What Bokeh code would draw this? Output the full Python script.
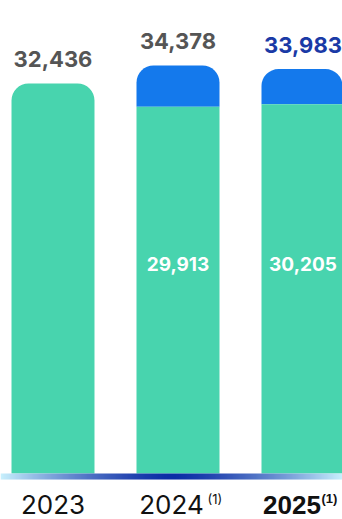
import numpy as np
from bokeh.plotting import figure
from bokeh.models import ColumnDataSource, Range1d
from bokeh.core.properties import value
from bokeh.embed import file_html
from bokeh.resources import INLINE

# ---- data ----
years = ["2023", "2024", "2025"]
totals = [32436, 34378, 33983]
base_values = [32436, 29913, 30205]   # green part
inner_labels = ["", "29,913", "30,205"]
total_labels = ["32,436", "34,378", "33,983"]
superscripts = ["", "(1)", "(1)"]

GREEN = "#48d4ae"
BLUE = "#1479ec"
BASE = -9640          # visual baseline of the bars
BAND = -10290         # bottom of the gradient band
W = 0.664

idx = list(range(len(years)))

p = figure(width=342, height=519, output_backend="svg", toolbar_location=None,
           x_range=Range1d(-0.42, 2.316), y_range=Range1d(-14602, 41385),
           min_border=0, outline_line_color=None, background_fill_color="white")
p.xaxis.visible = False
p.yaxis.visible = False
p.xgrid.visible = False
p.ygrid.visible = False

# blue tops (stacked segment), rounded top corners
blue_idx = [i for i in idx if totals[i] > base_values[i]]
src_blue = ColumnDataSource(dict(x=blue_idx,
                                 top=[totals[i] for i in blue_idx],
                                 bottom=[base_values[i] for i in blue_idx]))
p.vbar(x="x", top="top", bottom="bottom", width=W, source=src_blue,
       fill_color=BLUE, line_color=None, border_radius=(17, 17, 0, 0))

# green parts
green_round = [i for i in idx if totals[i] == base_values[i]]
green_flat = [i for i in idx if totals[i] > base_values[i]]
p.vbar(x=green_round, top=[base_values[i] for i in green_round], bottom=BASE,
       width=W, fill_color=GREEN, line_color=None, border_radius=(17, 17, 0, 0))
p.vbar(x=green_flat, top=[base_values[i] for i in green_flat], bottom=BASE,
       width=W, fill_color=GREEN, line_color=None)

# gradient baseline band
n = 400
t = np.linspace(-1, 1, n)
w = np.clip(np.abs(t) ** 1.4, 0, 1)
dark = np.array([12, 44, 166])
light = np.array([200, 240, 253])
cols = (dark[None, :] * (1 - w[:, None]) + light[None, :] * w[:, None]).astype(np.uint32)
img = np.empty((1, n), dtype=np.uint32)
view = img.view(dtype=np.uint8).reshape((1, n, 4))
view[0, :, 0] = cols[:, 0]
view[0, :, 1] = cols[:, 1]
view[0, :, 2] = cols[:, 2]
view[0, :, 3] = 255
x0 = -0.42
x1 = 2.316
p.image_rgba(image=[img], x=x0, y=BAND, dw=x1 - x0, dh=BASE - BAND)

# total labels
label_colors = ["#555555", "#555555", "#1a3aa6"]
p.text(x=idx, y=totals, text=total_labels, text_align="center", text_baseline="middle",
       y_offset=-24, text_font=value("Inter"), text_font_style="bold",
       text_font_size="22px", text_color=label_colors)

# inner labels
in_idx = [i for i in idx if inner_labels[i]]
p.text(x=in_idx, y=[13000] * len(in_idx), text=[inner_labels[i] for i in in_idx],
       text_align="center", text_baseline="middle", text_font=value("Inter"),
       text_font_style="bold", text_font_size="19px", text_color="white")

# category labels
styles = ["normal", "normal", "bold"]
fonts = ["Inter", "Inter", "Liberation Sans"]
main_off = [0, -6.5, -11]
sup_off = [0, 29.5, 18.5]
for i in idx:
    p.text(x=[i], y=[-13092], text=[years[i]], text_align="center", text_baseline="middle",
           x_offset=main_off[i], y_offset=-1, text_line_height=1.0,
           text_font=value(fonts[i]), text_font_style=styles[i],
           text_font_size="26px", text_color="#111111")
    if superscripts[i]:
        p.text(x=[i], y=[-13092], text=[superscripts[i]], text_align="left",
               text_baseline="middle", x_offset=sup_off[i], y_offset=-7,
               text_line_height=1.0, text_font=value(fonts[i]),
               text_font_style=styles[i], text_font_size="13px", text_color="#111111")

open("out.html", "w").write(file_html(p, INLINE))
